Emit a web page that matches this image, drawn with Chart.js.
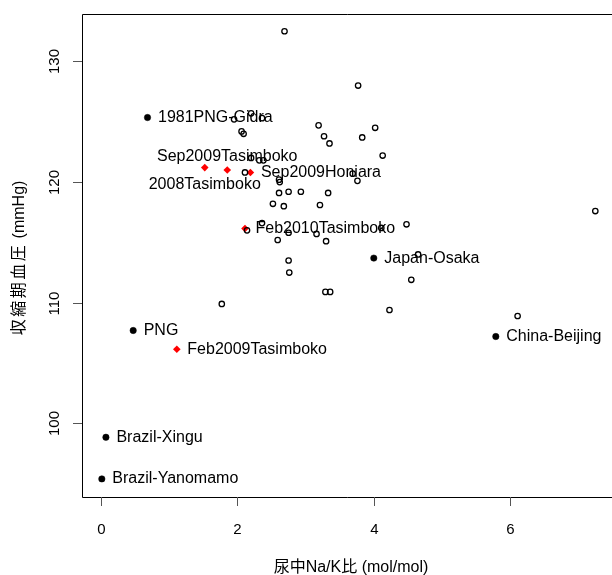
<!DOCTYPE html>
<html lang="ja">
<head>
    <meta charset="UTF-8">
    <title>尿中Na/K比と収縮期血圧</title>
    <style>
        body { margin: 0; background: #fff; }
        canvas { display: block; }
    </style>
</head>
<body>
    <canvas id="myChart" width="612" height="575"></canvas>
</body>
<script src="https://cdn.jsdelivr.net/npm/chart.js@4.4.0/dist/chart.umd.min.js"></script>
<script>
    // open circles (unlabelled groups)
    var openX = [2.69, 1.95, 2.20, 2.36, 2.06, 2.09, 3.19, 3.27, 3.35, 3.77, 4.02, 3.83, 4.13, 3.69, 3.76,
                 2.20, 2.32, 2.38, 2.11, 2.61, 2.62, 2.61, 2.75, 2.93, 3.33, 2.52, 2.68, 3.21, 2.36, 2.14,
                 2.75, 3.16, 2.59, 3.30, 2.75, 2.76, 3.29, 3.36, 1.77, 7.25, 4.48, 4.11, 4.65, 4.55, 4.23, 6.11];
    var openY = [132.5, 125.2, 125.7, 125.3, 124.2, 124.0, 124.7, 123.8, 123.2, 128.0, 124.5, 123.7, 122.2, 120.7, 120.1,
                 122.0, 121.8, 121.8, 120.8, 120.2, 120.0, 119.1, 119.2, 119.2, 119.1, 118.2, 118.0, 118.1, 116.6, 116.0,
                 115.8, 115.7, 115.2, 115.1, 113.5, 112.5, 110.9, 110.9, 109.9, 117.6, 116.5, 116.2, 114.0, 111.9, 109.4, 108.9];

    // labelled populations (black)
    var blackNames = ["1981PNG-Gidra", "PNG", "Brazil-Xingu", "Brazil-Yanomamo", "Japan-Osaka", "China-Beijing"];
    var blackX = [0.68, 0.47, 0.07, 0.01, 4.00, 5.79];
    var blackY = [125.35, 107.7, 98.85, 95.4, 113.7, 107.2];

    // labelled surveys (red)
    var redNames = ["2008Tasimboko", "Sep2009Tasimboko", "Sep2009Honiara", "Feb2010Tasimboko", "Feb2009Tasimboko"];
    var redX = [1.52, 1.85, 2.19, 2.11, 1.11];
    var redY = [121.2, 121.0, 120.8, 116.15, 106.15];

    var xTicks = [0, 2, 4, 6];
    var yTicks = [100, 110, 120, 130];
    var xTitle = "尿中Na/K比 (mol/mol)";
    var yTitleJa = "収縮期血圧";
    var yTitleUnit = " (mmHg)";

    function pts(xs, ys) {
        return xs.map(function (x, i) { return { x: x, y: ys[i] }; });
    }

    // where the label sits relative to its point
    var labelPlace = {
        "2008Tasimboko": { dx: 0, dy: 17, align: "center" },
        "Sep2009Tasimboko": { dx: 0, dy: -13.5, align: "center" }
    };

    var fontLat = '"Liberation Sans", Arial, sans-serif';
    var fontJa = '"Liberation Sans", "Noto Sans CJK JP", sans-serif';

    var decor = {
        id: 'decor',
        afterDraw: function (chart) {
            var ctx = chart.ctx;
            var a = chart.chartArea;
            var sx = chart.scales.x, sy = chart.scales.y;
            ctx.save();
            ctx.strokeStyle = '#000';
            ctx.lineWidth = 1;
            ctx.beginPath();
            ctx.moveTo(chart.width, a.top + 0.5);
            ctx.lineTo(a.left + 0.5, a.top + 0.5);
            ctx.lineTo(a.left + 0.5, a.bottom + 0.5);
            ctx.lineTo(chart.width, a.bottom + 0.5);
            ctx.stroke();

            ctx.fillStyle = '#000';
            ctx.font = '15px ' + fontLat;
            ctx.textAlign = 'center';
            ctx.textBaseline = 'middle';
            ctx.strokeStyle = '#555';
            xTicks.forEach(function (v) {
                var px = Math.round(sx.getPixelForValue(v)) + 0.5;
                ctx.beginPath();
                ctx.moveTo(px, a.bottom);
                ctx.lineTo(px, a.bottom + 9);
                ctx.stroke();
                ctx.fillText(String(v), px, 530);
            });
            yTicks.forEach(function (v) {
                var py = Math.round(sy.getPixelForValue(v)) + 0.5;
                ctx.beginPath();
                ctx.moveTo(a.left - 9, py);
                ctx.lineTo(a.left, py);
                ctx.stroke();
                ctx.save();
                ctx.translate(55, py);
                ctx.rotate(-Math.PI / 2);
                ctx.fillText(String(v), 0, 0);
                ctx.restore();
            });

            ctx.font = '16px ' + fontJa;
            ctx.fillText(xTitle, 351, 568);

            // y title: the kanji are a little spaced out in the original
            ctx.save();
            ctx.translate(20, 258);
            ctx.rotate(-Math.PI / 2);
            ctx.letterSpacing = '2.5px';
            var wJa = ctx.measureText(yTitleJa).width;
            ctx.letterSpacing = '0px';
            var wUnit = ctx.measureText(yTitleUnit).width;
            var x0 = -(wJa + wUnit) / 2;
            ctx.textAlign = 'left';
            ctx.letterSpacing = '2.5px';
            ctx.fillText(yTitleJa, x0, 0);
            ctx.letterSpacing = '0px';
            ctx.fillText(yTitleUnit, x0 + wJa, 0);
            ctx.restore();

            // point labels
            ctx.font = '16px ' + fontLat;
            [[1, blackNames], [2, redNames]].forEach(function (d) {
                var meta = chart.getDatasetMeta(d[0]);
                d[1].forEach(function (name, i) {
                    var el = meta.data[i];
                    var p = labelPlace[name] || { dx: 10.5, dy: 0, align: 'left' };
                    ctx.textAlign = p.align;
                    ctx.fillText(name, el.x + p.dx, el.y + p.dy);
                });
            });
            ctx.restore();
        }
    };

    var ctx = document.getElementById('myChart').getContext('2d');
    var myChart = new Chart(ctx, {
        type: 'scatter',
        data: {
            datasets: [{
                data: pts(openX, openY),
                pointStyle: 'circle',
                pointRadius: 2.7,
                borderWidth: 1.3,
                borderColor: '#000',
                backgroundColor: 'rgba(0,0,0,0)'
            }, {
                data: pts(blackX, blackY),
                pointStyle: 'circle',
                pointRadius: 3.2,
                borderWidth: 0.5,
                borderColor: '#000',
                backgroundColor: '#000'
            }, {
                data: pts(redX, redY),
                pointStyle: 'rectRot',
                pointRadius: 3.8,
                borderWidth: 0,
                borderColor: '#ff0000',
                backgroundColor: '#ff0000'
            }]
        },
        options: {
            responsive: false,
            animation: false,
            layout: { padding: { left: 82, top: 14, right: 0, bottom: 78 } },
            plugins: { legend: { display: false }, tooltip: { enabled: false } },
            scales: {
                x: { type: 'linear', min: -0.281, max: 7.417, display: false },
                y: { type: 'linear', min: 93.9, max: 133.93, display: false }
            }
        },
        plugins: [decor]
    });
</script>
</html>
